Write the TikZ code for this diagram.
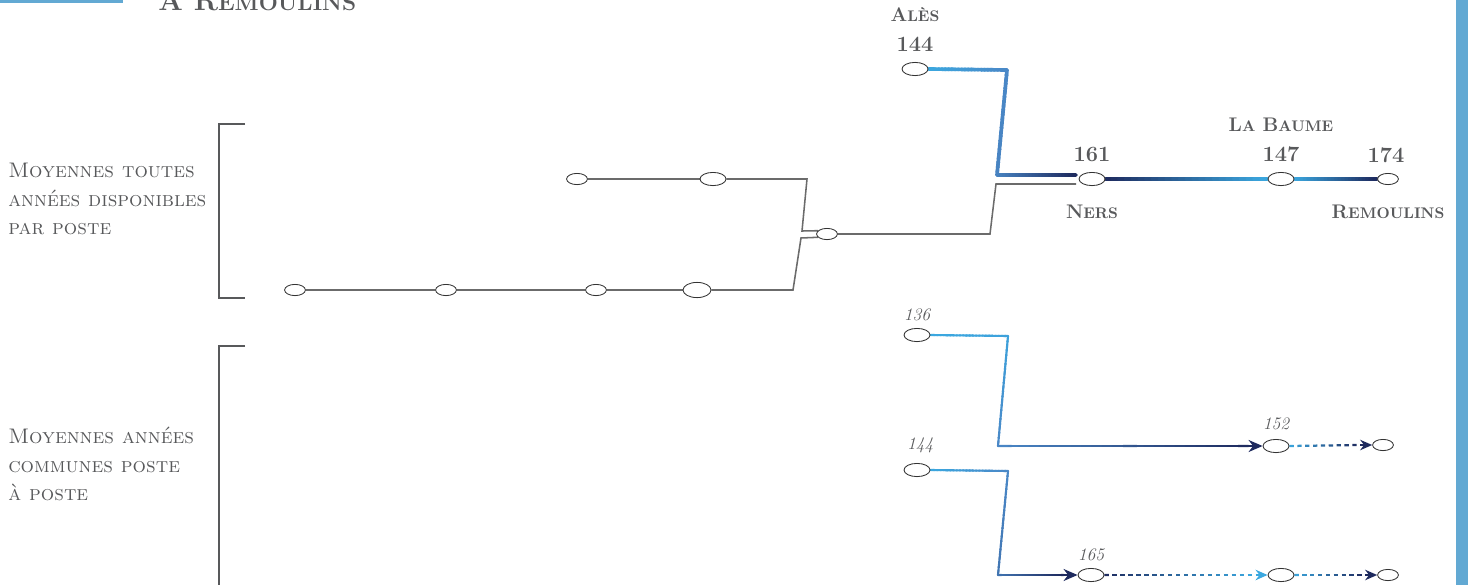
\documentclass[tikz,border=0pt]{standalone}
\usetikzlibrary{shapes.geometric, positioning, calc, arrows.meta, backgrounds}

\definecolor{skyblue}{HTML}{3BA8E0}
\definecolor{steelblue}{HTML}{4A88C7}
\definecolor{navyblue}{HTML}{1E2A5E}
\definecolor{barblue}{HTML}{62A9D3}
\definecolor{linegray}{HTML}{6B6B6B}
\definecolor{textgray}{HTML}{58595B}

% small caps made by hand (the bold face has none)
\makeatletter
\newdimen\scsize
\newcommand{\fakesc}[2]{#1{\scsize=\f@size pt\scsize=0.78\scsize\fontsize{\scsize}{\scsize}\selectfont\MakeUppercase{#2}}}
\makeatother

% line whose colour runs from #3 to #4
\newcommand{\gradline}[5]{%
  \foreach \k in {0,...,23}{%
    \pgfmathsetmacro{\ta}{\k/24}%
    \pgfmathsetmacro{\tb}{min(1,(\k+1.3)/24)}%
    \pgfmathsetmacro{\pc}{100*(\k+0.5)/24}%
    \colorlet{segcol}{#4!\pc!#3}%
    \draw[segcol, line width=#5, line cap=round] ($(#1)!\ta!(#2)$) -- ($(#1)!\tb!(#2)$);
  }}
% dotted line, same colour run, #6 dots
\newcommand{\graddots}[6]{%
  \foreach \k in {1,...,#6}{%
    \pgfmathsetmacro{\ta}{(\k-1)/#6}%
    \pgfmathsetmacro{\tb}{(\k-0.45)/#6}%
    \pgfmathsetmacro{\pc}{100*(\k-0.5)/#6}%
    \colorlet{segcol}{#4!\pc!#3}%
    \draw[segcol, line width=#5] ($(#1)!\ta!(#2)$) -- ($(#1)!\tb!(#2)$);
  }}

\begin{document}
\begin{tikzpicture}[x=0.025cm, y=-0.025cm,
  stn/.style={ellipse, draw=black!80, line width=0.6pt, fill=white, inner sep=0pt, minimum width=0.65cm, minimum height=0.33cm},
  stnsmall/.style={stn, minimum width=0.52cm, minimum height=0.28cm},
  stnbig/.style={stn, minimum width=0.7cm, minimum height=0.38cm},
  net/.style={linegray, line width=1.1pt},
  bracket/.style={textgray, line width=1.5pt},
  boldlbl/.style={textgray, inner sep=0pt, font=\fontsize{14}{14}\selectfont\bfseries},
  boldnum/.style={boldlbl, font=\fontsize{15.5}{15.5}\selectfont\bfseries},
  itlbl/.style={textgray, inner sep=0pt, font=\fontsize{12.5}{12.5}\selectfont\itshape},
  sidetxt/.style={textgray, inner sep=0pt, align=left, anchor=north west, font=\fontsize{15}{20.3}\selectfont\scshape},
  bigtip/.style={-{Stealth[length=0.35cm, width=0.3cm]}},
  smalltip/.style={-{Stealth[length=0.3cm, width=0.26cm]}}]

  \useasboundingbox (0,0) rectangle (1468,585);

  \fill[barblue] (0,0) rectangle (123,2.5);
  \fill[barblue] (1456,0) rectangle (1468,585);

  \node[textgray, anchor=base west, inner sep=0pt, font=\fontsize{20.6}{20.6}\selectfont\bfseries] (title) at (158,10) {À \fakesc{R}{emoulins}};

  % side texts and brackets
  \node[sidetxt] (txtall) at (8,163) {Moyennes toutes\\années disponibles\\par poste};
  \node[sidetxt] (txtcommon) at (8,427) {Moyennes années\\communes poste\\à poste};
  \draw[bracket] (245,124) -- (219,124) -- (219,298) -- (245,298);
  \draw[bracket] (245,346) -- (219,346) -- (219,590);

  % grey network
  \node[stnsmall] (a1) at (577,179) {};
  \node[stn] (a2) at (713,179) {};
  \node[stnsmall] (c) at (827,234) {};
  \node[stnsmall] (b1) at (295,290) {};
  \node[stnsmall] (b2) at (446,290) {};
  \node[stnsmall] (b3) at (596,290) {};
  \node[stnbig] (b4) at (697,290) {};

  % line Ales - Ners - La Baume - Remoulins
  \node[stn] (ales) at (915,69) {};
  \node[stn] (ners) at (1092,179) {};
  \node[stn] (baume) at (1281,179) {};
  \node[stnsmall] (remou) at (1388,179) {};

  \node[boldnum, above=0.26cm of ales] (n144) {144};
  \node[boldlbl, above=0.37cm of n144] (lales) {\fakesc{A}{lès}};
  \node[boldnum, above=0.24cm of ners] (n161) {161};
  \node[boldlbl, below=0.47cm of ners] (lners) {\fakesc{N}{ers}};
  \node[boldnum, above=0.24cm of baume] (n147) {147};
  \node[boldlbl, above=0.37cm of n147] (lbaume) {\fakesc{L}{a} \fakesc{B}{aume}};
  \node[boldnum, above=0.26cm of remou, xshift=-0.05cm] (n174) {174};
  \node[boldlbl, below=0.5cm of remou] (lremou) {\fakesc{R}{emoulins}};

  % common years
  \node[stn] (p136) at (917,335) {};
  \node[stn] (p152) at (1276,446) {};
  \node[stnsmall] (q152) at (1383,445) {};
  \node[stn] (p144) at (917,470) {};
  \node[stn] (p165) at (1091,575) {};
  \node[stn] (q165) at (1281,575) {};
  \node[stnsmall] (r165) at (1388,575) {};

  \node[itlbl, above=0.16cm of p136] (i136) {136};
  \node[itlbl, above=0.22cm of p152] (i152) {152};
  \node[itlbl, above=0.24cm of p144, xshift=0.08cm] (i144) {144};
  \node[itlbl, above=0.17cm of p165] (i165) {165};

  \coordinate (k1) at (1007,70);
  \coordinate (k2) at (997,175);
  \coordinate (k2e) at (1076,175);
  \coordinate (k3) at (1008,336);
  \coordinate (k4) at (998,446);
  \coordinate (k5) at (1008,471);
  \coordinate (k6) at (998,575);
  \coordinate (g1) at (990,234);
  \coordinate (g2) at (996,184);
  \coordinate (g3) at (1076,184);
  \coordinate (a152) at ($(p152.west)+(-14,0)$);
  \coordinate (b152) at ($(q152.west)+(-12,0)$);
  \coordinate (a165) at ($(p165.west)+(-14,0)$);
  \coordinate (b165) at ($(q165.west)+(-12,0)$);
  \coordinate (c165) at ($(r165.west)+(-12,0)$);

  \begin{pgfonlayer}{background}
    \draw[net] (a1) -- (a2);
    \draw[net] (a2) -- (807,179) -- (802,231) -- (c.160);
    \draw[net] (b1) -- (b2) -- (b3) -- (b4);
    \draw[net] (b4) -- (793,290) -- (801,238) -- (c.200);
    \draw[net] (c) -- (g1) -- (g2) -- (g3);

    \gradline{ales.east}{k1}{skyblue}{steelblue}{2.6pt}
    \gradline{k1}{k2}{steelblue}{steelblue!95!navyblue}{2.6pt}
    \gradline{k2}{k2e}{steelblue!95!navyblue}{navyblue}{2.6pt}
    \gradline{ners.east}{baume.west}{navyblue}{skyblue}{2.6pt}
    \gradline{baume.east}{remou.west}{skyblue}{navyblue}{2.6pt}

    \gradline{p136.east}{k3}{skyblue}{skyblue!80!steelblue}{1.5pt}
    \gradline{k3}{k4}{skyblue!80!steelblue}{steelblue}{1.5pt}
    \gradline{k4}{a152}{steelblue}{navyblue}{1.5pt}
    \draw[navyblue, line width=1.5pt, bigtip] (a152) -- (p152.west);
    \graddots{p152.east}{b152}{skyblue}{navyblue}{1.6pt}{9}
    \draw[navyblue, line width=1.6pt, smalltip] (b152) -- (q152.west);

    \gradline{p144.east}{k5}{skyblue}{steelblue}{1.5pt}
    \gradline{k5}{k6}{steelblue}{steelblue!80!navyblue}{1.5pt}
    \gradline{k6}{a165}{steelblue!80!navyblue}{navyblue}{1.5pt}
    \draw[navyblue, line width=1.5pt, bigtip] (a165) -- (p165.west);
    \graddots{p165.east}{b165}{navyblue}{skyblue}{1.6pt}{19}
    \draw[skyblue, line width=1.6pt, smalltip] (b165) -- (q165.west);
    \graddots{q165.east}{c165}{skyblue}{navyblue}{1.6pt}{9}
    \draw[navyblue, line width=1.6pt, smalltip] (c165) -- (r165.west);
  \end{pgfonlayer}

\end{tikzpicture}
\end{document}
